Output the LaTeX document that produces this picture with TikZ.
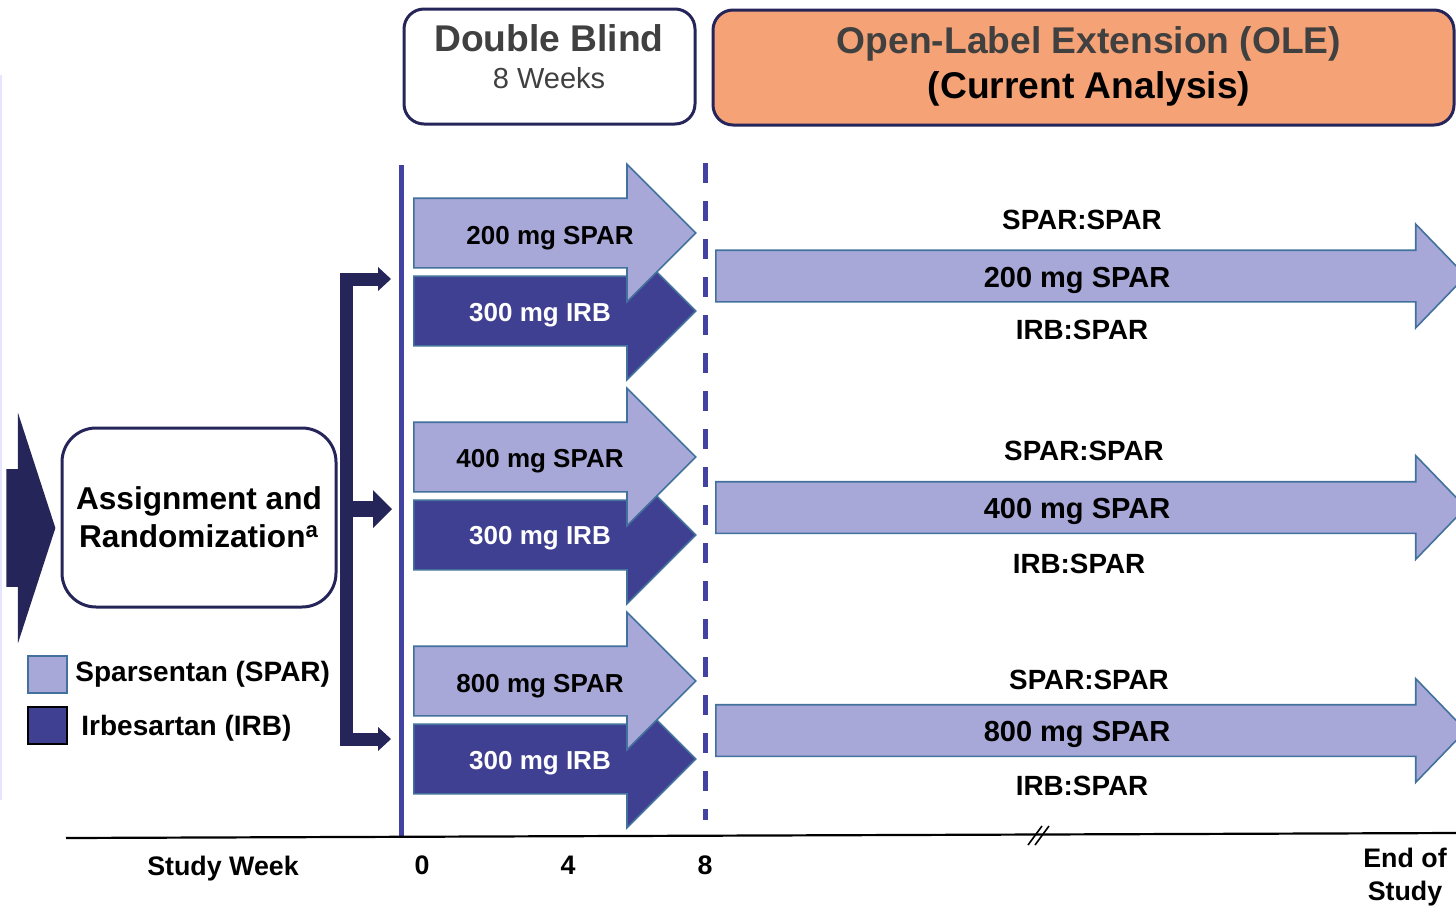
\documentclass[tikz,border=0pt]{standalone}
\usepackage{fontspec}
\setmainfont{Liberation Sans}
\usepackage{tikz}
\usetikzlibrary{positioning,arrows.meta,shapes.arrows}
\definecolor{navy}{RGB}{37,37,90}
\definecolor{sparfill}{RGB}{168,168,216}
\definecolor{irbfill}{RGB}{64,64,146}
\definecolor{edgeblue}{RGB}{65,113,156}
\definecolor{weekblue}{RGB}{66,66,160}
\definecolor{olefill}{RGB}{244,162,118}
\definecolor{headgray}{RGB}{64,64,64}
\tikzset{
  phasebox/.style={draw=navy, line width=1.5pt, rounded corners=10pt, inner sep=0pt},
  assignbox/.style={draw=navy, line width=1.5pt, rounded corners=17pt, fill=white, minimum width=137pt, minimum height=89.5pt, align=center, text depth=0pt, font=\fontsize{15.8}{19}\selectfont\bfseries},
  dbarrow/.style={single arrow, draw=edgeblue, line width=0.8pt, inner xsep=0pt, inner ysep=17pt, single arrow head extend=17pt, single arrow tip angle=90, minimum height=141pt, anchor=tail},
  olearrow/.style={single arrow, draw=edgeblue, fill=sparfill, line width=0.8pt, inner xsep=0pt, inner ysep=12.5pt, single arrow head extend=13pt, single arrow tip angle=92, minimum height=375pt, anchor=tail},
  headtext/.style={text depth=0pt, inner sep=0pt, font=\fontsize{18.6}{22}\selectfont\bfseries},
  dblabel/.style={text depth=0pt, inner sep=0pt, font=\fontsize{13}{15}\selectfont\bfseries},
  olelabel/.style={text depth=0pt, inner sep=0pt, font=\fontsize{14.5}{17}\selectfont\bfseries},
  armlabel/.style={text depth=0pt, inner sep=0pt, font=\fontsize{13.9}{16}\selectfont\bfseries},
  legendkey/.style={minimum width=19.5pt, minimum height=18.5pt, inner sep=0pt, line width=1pt},
  legendtext/.style={text depth=0pt, inner sep=0pt, font=\fontsize{14}{16}\selectfont\bfseries},
  axislabel/.style={text depth=0pt, inner sep=0pt, align=center, font=\fontsize{13.4}{16.5}\selectfont\bfseries},
  bracketarm/.style={draw=navy, line width=6.5pt, line join=miter},
  weekline/.style={draw=weekblue, line width=2.5pt}
}

\begin{document}
\begin{tikzpicture}[x=0.5pt, y=-0.5pt]
  \useasboundingbox (0,0) rectangle (1456,905);
  \draw[blue!10, line width=1pt] (1,75) -- (1,800);

  % phase headers
  \node[phasebox, fill=white, minimum width=145.5pt, minimum height=57.5pt] (dbbox) at (549.5,66.5) {};
  \node[headtext, headgray] (dbtitle) at (549,38) {Double Blind};
  \node[text depth=0pt, inner sep=0pt, headgray, font=\fontsize{14.5}{17}\selectfont] (dbweeks) at (549,78) {8 Weeks};
  \node[phasebox, fill=olefill, minimum width=370.5pt, minimum height=57.5pt] (olebox) at (1083.5,67.5) {};
  \node[headtext, headgray] (oletitle) at (1089,40) {Open-Label Extension (OLE)};
  \node[headtext] (olesub) at (1089,85) {(Current Analysis)};

  % entry and randomization
  \node[single arrow, fill=navy, inner xsep=0pt, inner ysep=29.25pt, single arrow head extend=28.25pt, single arrow tip angle=144, minimum height=24.5pt, anchor=tail] (entry) at (6,528) {};
  \node[assignbox] (assign) at (199,517.5) {Assignment and\\Randomization\textsuperscript{a}};

  % legend
  \node[legendkey, fill=sparfill, draw=edgeblue] (sparkey) at (47.5,674.5) {};
  \node[legendkey, fill=irbfill, draw=black] (irbkey) at (47.5,725.5) {};
  \node[legendtext, right=3.5pt of sparkey, yshift=1.75pt] (spartext) {Sparsentan (SPAR)};
  \node[legendtext, right=6.5pt of irbkey] (irbtext) {Irbesartan (IRB)};

  % bracket
  \coordinate (barmid) at (346.5,509);
  \coordinate (barbot) at (346.5,739);
  \coordinate (in1) at (391,279);
  \coordinate (in2) at (392,509);
  \coordinate (in3) at (391,739);
  \draw[bracketarm, {Triangle[length=6.5pt,width=12pt,line width=0pt]}-{Triangle[length=6.5pt,width=12pt,line width=0pt]}] (in1) -| (barbot) -- (in3);
  \draw[bracketarm, line width=8pt, -{Triangle[length=9.5pt,width=19pt,line width=0pt]}] (barmid) -- (in2);

  % week lines
  \draw[weekline] (401,165) -- (401,836);
  \draw[weekline, dash pattern=on 10pt off 9pt] (705,163) -- (705,820);

  % double blind arms
  \node[dbarrow, fill=irbfill] (irb1) at (413,311) {};
  \node[dbarrow, fill=sparfill] (spar1) at (413,233) {};
  \node[dblabel] (spar1txt) at (550,235) {200 mg SPAR};
  \node[dblabel, white] (irb1txt) at (540,312) {300 mg IRB};

  \node[dbarrow, fill=irbfill] (irb2) at (413,535) {};
  \node[dbarrow, fill=sparfill] (spar2) at (413,457) {};
  \node[dblabel] (spar2txt) at (540,458) {400 mg SPAR};
  \node[dblabel, white] (irb2txt) at (540,535) {300 mg IRB};

  \node[dbarrow, fill=irbfill] (irb3) at (413,759) {};
  \node[dbarrow, fill=sparfill] (spar3) at (413,681) {};
  \node[dblabel] (spar3txt) at (540,683) {800 mg SPAR};
  \node[dblabel, white] (irb3txt) at (540,760) {300 mg IRB};

  % open-label arms
  \node[olearrow] (ole1) at (715,276) {};
  \node[olelabel] (ole1txt) at (1077,277) {200 mg SPAR};
  \node[armlabel] (ss1) at (1082,220) {SPAR:SPAR};
  \node[armlabel] (is1) at (1082,330) {IRB:SPAR};

  \node[olearrow] (ole2) at (715,507.5) {};
  \node[olelabel] (ole2txt) at (1077,508) {400 mg SPAR};
  \node[armlabel] (ss2) at (1084,451) {SPAR:SPAR};
  \node[armlabel] (is2) at (1079,564) {IRB:SPAR};

  \node[olearrow] (ole3) at (715,730.5) {};
  \node[olelabel] (ole3txt) at (1077,731) {800 mg SPAR};
  \node[armlabel] (ss3) at (1089,680) {SPAR:SPAR};
  \node[armlabel] (is3) at (1082,786) {IRB:SPAR};

  % study week axis
  \draw[line width=1.1pt] (66,838) -- (1456,833);
  \draw[line width=0.8pt] (1028,845) -- (1042,826) (1035,845) -- (1049,826);
  \node[axislabel] (wklabel) at (223,866) {Study Week};
  \node[axislabel] (wk0) at (422,865) {0};
  \node[axislabel] (wk4) at (568,865) {4};
  \node[axislabel] (wk8) at (705,865) {8};
  \node[axislabel] (wkend) at (1405,874) {End of\\Study};
\end{tikzpicture}
\end{document}
